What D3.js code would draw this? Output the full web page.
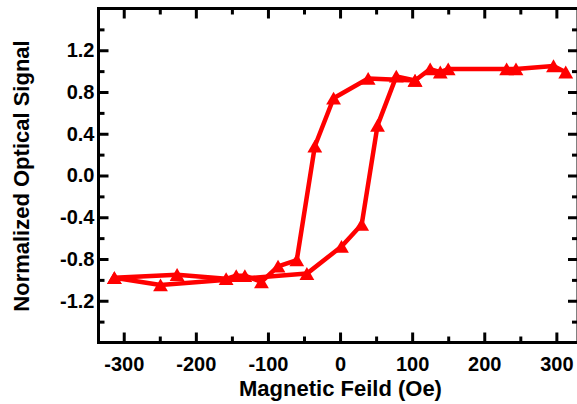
<!DOCTYPE html>
<html>
<head>
<meta charset="utf-8">
<script src="https://cdn.jsdelivr.net/npm/d3@7"></script>
<style>
  body { margin: 0; background: #fff; }
  svg { display: block; }
  text { font-family: "Liberation Sans", Arial, sans-serif; font-weight: bold; }
</style>
</head>
<body>
<svg id="chart" width="577" height="404"></svg>
<script>
// field sweeping from + to - (switches near -40 Oe)
const sweepDownField  = [313, 296, 244, 231, 150, 139, 125, 104, 39, -9, -35, -60, -86, -109, -132, -144, -158, -226, -313];
const sweepDownSignal = [0.99, 1.05, 1.02, 1.02, 1.02, 0.99, 1.02, 0.91, 0.93, 0.74, 0.28, -0.81, -0.87, -1.02, -0.96, -0.96, -0.99, -0.95, -0.98];

// field sweeping from - to + (switches near +40 Oe)
const sweepUpField  = [-313, -249, -46, 2, 30, 52, 78, 104];
const sweepUpSignal = [-0.98, -1.05, -0.94, -0.68, -0.47, 0.48, 0.95, 0.91];

const xMajor = [-300, -200, -100, 0, 100, 200, 300];
const xMinor = [-250, -150, -50, 50, 150, 250];
const yMajor = [-1.2, -0.8, -0.4, 0.0, 0.4, 0.8, 1.2];
const yMinor = [-1.4, -1.0, -0.6, -0.2, 0.2, 0.6, 1.0, 1.4];

const plotLeft = 98.5, plotRight = 578, plotTop = 8.5, plotBottom = 342.5;

const svg = d3.select("#chart");

const x = d3.scaleLinear().domain([-335, 330]).range([plotLeft, plotRight]);
const y = d3.scaleLinear().domain([-1.6, 1.6]).range([plotBottom, plotTop]);

const red = "#ff0000";

const down = sweepDownField.map((f, i) => [f, sweepDownSignal[i]]);
const up = sweepUpField.map((f, i) => [f, sweepUpSignal[i]]);

const line = d3.line().x(d => x(d[0])).y(d => y(d[1]));

[down, up].forEach(pts => {
  svg.append("path")
    .attr("d", line(pts))
    .attr("fill", "none")
    .attr("stroke", red)
    .attr("stroke-width", 4.5)
    .attr("stroke-linejoin", "round");
});

// triangle centred on its box, not its centroid
const tri = d3.symbol().type(d3.symbolTriangle).size(95);
svg.selectAll(".mark")
  .data(down.concat(up))
  .enter().append("path")
  .attr("class", "mark")
  .attr("d", tri)
  .attr("transform", d => `translate(${x(d[0])},${y(d[1]) + 2})`)
  .attr("fill", red);

const hyphen = s => s.replace("\u2212", "-");

// axes: ticks pointing inwards
function styleAxis(g) {
  g.select(".domain").remove();
  g.selectAll("line").attr("stroke", "#000").attr("stroke-width", 3);
  g.selectAll("text").attr("fill", "#000").style("font-size", "20px");
}

svg.append("g")
  .attr("transform", `translate(0,${plotBottom})`)
  .call(d3.axisBottom(x).tickValues(xMajor).tickSize(-10).tickPadding(14).tickFormat(d => String(d)))
  .call(styleAxis);
svg.append("g")
  .attr("transform", `translate(0,${plotBottom})`)
  .call(d3.axisBottom(x).tickValues(xMinor).tickSize(-6).tickFormat(""))
  .call(styleAxis);

svg.append("g")
  .attr("transform", `translate(0,${plotTop})`)
  .call(d3.axisTop(x).tickValues(xMajor).tickSize(-10).tickFormat(""))
  .call(styleAxis);
svg.append("g")
  .attr("transform", `translate(0,${plotTop})`)
  .call(d3.axisTop(x).tickValues(xMinor).tickSize(-6).tickFormat(""))
  .call(styleAxis);

svg.append("g")
  .attr("transform", `translate(${plotLeft},0)`)
  .call(d3.axisLeft(y).tickValues(yMajor).tickSize(-10).tickPadding(4).tickFormat(d => hyphen(d3.format(".1f")(d))))
  .call(styleAxis);
svg.append("g")
  .attr("transform", `translate(${plotLeft},0)`)
  .call(d3.axisLeft(y).tickValues(yMinor).tickSize(-6).tickFormat(""))
  .call(styleAxis);

svg.append("g")
  .attr("transform", `translate(${plotRight},0)`)
  .call(d3.axisRight(y).tickValues(yMajor).tickSize(-10).tickFormat(""))
  .call(styleAxis);
svg.append("g")
  .attr("transform", `translate(${plotRight},0)`)
  .call(d3.axisRight(y).tickValues(yMinor).tickSize(-6).tickFormat(""))
  .call(styleAxis);

// frame
svg.append("rect")
  .attr("x", plotLeft).attr("y", plotTop)
  .attr("width", plotRight - plotLeft).attr("height", plotBottom - plotTop)
  .attr("fill", "none")
  .attr("stroke", "#000")
  .attr("stroke-width", 3);

svg.append("text")
  .attr("x", 340.5).attr("y", 396)
  .attr("text-anchor", "middle")
  .style("font-size", "22px")
  .text("Magnetic Feild (Oe)");

svg.append("text")
  .attr("transform", "translate(29,176) rotate(-90)")
  .attr("text-anchor", "middle")
  .style("font-size", "22px")
  .text("Normalized Optical Signal");
</script>
</body>
</html>
